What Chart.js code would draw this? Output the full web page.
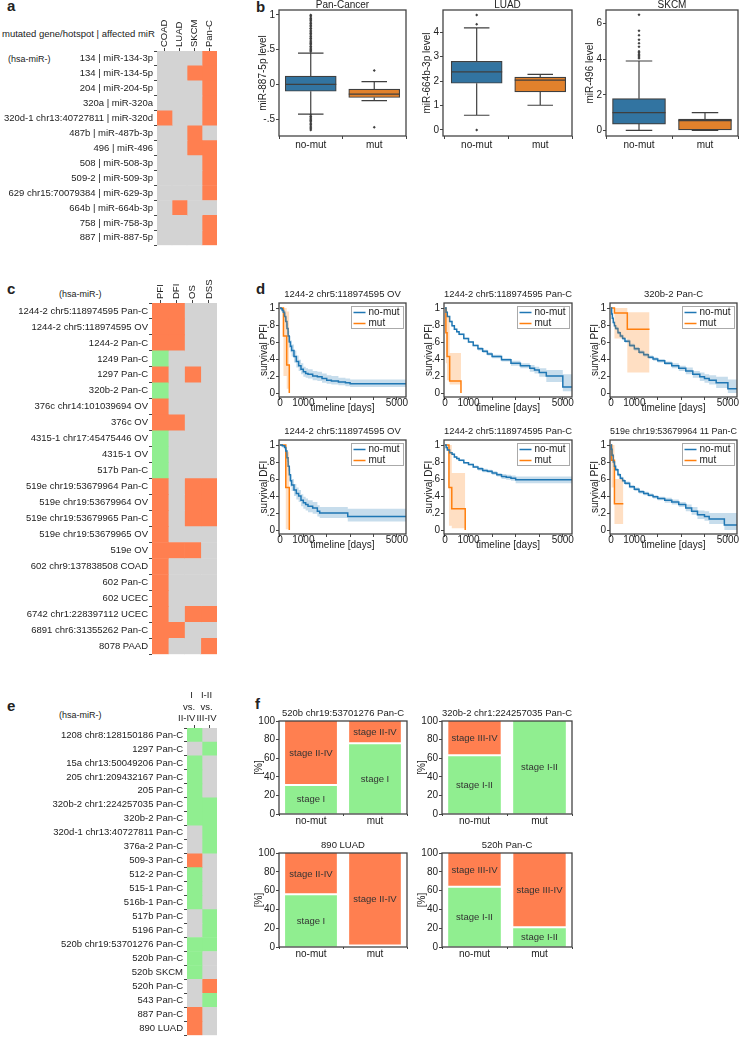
<!DOCTYPE html>
<html>
<head>
<meta charset="utf-8">
<title>miRNA mutation figure</title>
<script src="https://cdn.jsdelivr.net/npm/chart.js@4.4.1/dist/chart.umd.min.js"></script>
<style>
  body { margin: 0; width: 740px; height: 1041px; background: #fff; position: relative; overflow: hidden;
         font-family: "Liberation Sans", Arial, sans-serif; color: #222; }
  canvas { position: absolute; }
  .lbl { position: absolute; font-size: 9.5px; line-height: 1; white-space: nowrap; }
  .hsa { position: absolute; font-size: 9px; line-height: 1; white-space: nowrap; }
  .panel { position: absolute; font-size: 15px; font-weight: bold; line-height: 1; }
</style>
</head>
<body>
<div class="panel" style="left:7px;top:-2px">a</div>
<div class="panel" style="left:256px;top:-1px">b</div>
<div class="panel" style="left:7px;top:281px">c</div>
<div class="panel" style="left:256px;top:281px">d</div>
<div class="panel" style="left:7px;top:698px">e</div>
<div class="panel" style="left:255px;top:696px">f</div>
<div class="lbl" style="left:2px;top:29px">mutated gene/hotspot | affected miR</div>
<div class="hsa" style="left:8px;top:55px">(hsa-miR-)</div>
<div class="hsa" style="left:59px;top:290px">(hsa-miR-)</div>
<div class="hsa" style="left:59px;top:711px">(hsa-miR-)</div>
<script>
// ---- colours
const ORANGE = '#ff7f50', GREEN = '#90ee90', GREY = '#d3d3d3';
const cellColors = [GREY, ORANGE, GREEN];   // 0 = n.s., 1 = worse / up, 2 = better / down
const BLUE_LINE = '#1f77b4', ORANGE_LINE = '#ff7f0e';
const BLUE_BAND = 'rgba(31,119,180,0.25)', ORANGE_BAND = 'rgba(255,127,14,0.25)';

// ---- panel a
const aCols = ['COAD', 'LUAD', 'SKCM', 'Pan-C'];
const aRows = ['134 | miR-134-3p', '134 | miR-134-5p', '204 | miR-204-5p', '320a | miR-320a',
  '320d-1 chr13:40727811 | miR-320d', '487b | miR-487b-3p', '496 | miR-496', '508 | miR-508-3p',
  '509-2 | miR-509-3p', '629 chr15:70079384 | miR-629-3p', '664b | miR-664b-3p', '758 | miR-758-3p',
  '887 | miR-887-5p'];
const aVals = [[0,0,0,1],[0,0,1,1],[0,0,0,1],[0,0,0,1],[1,0,0,1],[0,0,1,0],[0,0,1,1],
  [0,0,0,1],[0,0,0,1],[0,0,0,1],[0,1,0,0],[0,0,0,1],[0,0,0,1]];

// ---- panel b  (whisker low, q1, median, q3, whisker high)
const bGroups = ['no-mut', 'mut'];
const panStats = [[-0.43, -0.10, 0.0, 0.12, 0.45], [-0.235, -0.19, -0.14, -0.07, 0.04]];
const panOutNoMut = [0.47, 0.49, 0.5, 0.52, 0.54, 0.55, 0.57, 0.59, 0.6, 0.62, 0.64, 0.66, 0.67, 0.69,
  0.71, 0.73, 0.74, 0.76, 0.78, 0.8, 0.81, 0.83, 0.85, 0.87, 0.88, 0.9, 0.92, 0.94, 0.95, 0.97, 0.99, 1.0,
  -0.44, -0.46, -0.47, -0.49, -0.51, -0.52, -0.54, -0.56, -0.58, -0.6, -0.62, -0.64, -0.66];
const panOutMut = [0.2, -0.62];
const luadStats = [[0.6, 1.91, 2.38, 2.81, 4.18], [1.01, 1.56, 2.04, 2.16, 2.27]];
const luadOutNoMut = [4.33, 4.71, 0.0];
const luadOutMut = [];
const skcmStats = [[0, 0.35, 0.99, 1.78, 3.9], [0, 0, 0.54, 0.63, 1.0]];
const skcmOutNoMut = [4.05, 4.12, 4.2, 4.28, 4.36, 4.45, 4.7, 4.9, 5.1, 5.35, 5.6, 6.5];
const skcmOutMut = [];

// ---- panel c
const cCols = ['PFI', 'DFI', 'OS', 'DSS'];
const cRows = ['1244-2 chr5:118974595 Pan-C', '1244-2 chr5:118974595 OV', '1244-2 Pan-C', '1249 Pan-C',
  '1297 Pan-C', '320b-2 Pan-C', '376c chr14:101039694 OV', '376c OV', '4315-1 chr17:45475446 OV',
  '4315-1 OV', '517b Pan-C', '519e chr19:53679964 Pan-C', '519e chr19:53679964 OV',
  '519e chr19:53679965 Pan-C', '519e chr19:53679965 OV', '519e OV', '602 chr9:137838508 COAD',
  '602 Pan-C', '602 UCEC', '6742 chr1:228397112 UCEC', '6891 chr6:31355262 Pan-C', '8078 PAAD'];
const cVals = [[1,1,0,0],[1,1,0,0],[1,1,0,0],[2,0,0,0],[1,0,1,0],[2,0,0,0],[1,0,0,0],[1,1,0,0],
  [2,0,0,0],[2,0,0,0],[2,0,0,0],[1,0,1,1],[1,0,1,1],[1,0,1,1],[1,0,0,0],[1,1,1,0],[1,0,0,0],
  [1,0,0,0],[1,0,0,0],[1,0,1,1],[1,1,0,0],[1,0,0,1]];

// ---- panel d  survival curves: [time, survival, ci low, ci high]
const d1NoMut = [[0,1,1,1],[50,0.99,0.97,1],[100,0.97,0.94,0.99],[150,0.95,0.91,0.98],[200,0.9,0.85,0.94],
  [250,0.84,0.78,0.89],[300,0.76,0.69,0.82],[350,0.67,0.6,0.73],[400,0.6,0.53,0.67],[450,0.55,0.48,0.62],
  [500,0.5,0.43,0.57],[600,0.43,0.36,0.5],[700,0.37,0.3,0.44],[800,0.32,0.26,0.39],[900,0.28,0.22,0.35],
  [1000,0.25,0.19,0.31],[1100,0.23,0.18,0.29],[1200,0.22,0.17,0.28],[1400,0.2,0.15,0.26],[1600,0.19,0.14,0.25],
  [1800,0.17,0.12,0.23],[2000,0.15,0.11,0.21],[2200,0.14,0.1,0.2],[2500,0.13,0.09,0.18],[2800,0.12,0.08,0.17],
  [3000,0.11,0.07,0.16],[5390,0.11,0.07,0.16]];
const d1Mut = [[0,1,1,1],[150,0.67,0.2,1],[290,0.33,0.05,0.96],[400,0,0.05,0.96]];
const d2NoMut = [[0,1,1,1],[50,0.95,0.94,0.96],[100,0.9,0.89,0.91],[200,0.84,0.83,0.85],[300,0.79,0.78,0.8],
  [400,0.75,0.74,0.76],[500,0.72,0.71,0.73],[600,0.69,0.68,0.7],[800,0.64,0.63,0.65],[1000,0.6,0.59,0.61],
  [1200,0.56,0.55,0.57],[1400,0.52,0.5,0.54],[1600,0.49,0.47,0.51],[1800,0.46,0.44,0.48],[2000,0.43,0.41,0.45],
  [2400,0.39,0.37,0.41],[2800,0.35,0.32,0.38],[3200,0.32,0.29,0.35],[3600,0.29,0.25,0.33],[3800,0.27,0.23,0.31],
  [4000,0.24,0.19,0.29],[4300,0.2,0.13,0.27],[5000,0.07,0.02,0.22],[5390,0.07,0.02,0.22]];
const d2Mut = [[0,1,1,1],[40,0.71,0.35,1],[90,0.43,0.15,0.9],[200,0.14,0.1,0.47],[680,0,0.1,0.47]];
const d3NoMut = [[0,1,1,1],[30,0.93,0.91,0.95],[60,0.88,0.86,0.9],[100,0.83,0.81,0.85],[150,0.79,0.77,0.81],
  [200,0.76,0.74,0.78],[300,0.71,0.69,0.73],[400,0.67,0.65,0.69],[500,0.64,0.62,0.66],[600,0.61,0.59,0.63],
  [800,0.56,0.54,0.58],[1000,0.52,0.5,0.54],[1200,0.48,0.46,0.5],[1400,0.45,0.43,0.47],[1600,0.42,0.4,0.44],
  [1800,0.4,0.38,0.42],[2000,0.38,0.36,0.4],[2300,0.35,0.33,0.37],[2600,0.32,0.29,0.35],[2900,0.29,0.26,0.32],
  [3200,0.26,0.22,0.3],[3500,0.22,0.18,0.26],[3800,0.19,0.14,0.24],[4000,0.17,0.12,0.22],[4200,0.15,0.1,0.21],
  [4500,0.12,0.06,0.19],[5000,0.05,0,0.16],[5390,0.05,0,0.16]];
const d3Mut = [[0,1,1,1],[150,0.94,0.64,1],[700,0.75,0.24,0.95],[1650,0.75,0.24,0.95]];
const d4NoMut = [[0,1,1,1],[100,0.99,0.97,1],[200,0.97,0.94,0.99],[250,0.93,0.89,0.96],[300,0.85,0.8,0.9],
  [350,0.75,0.69,0.81],[400,0.65,0.58,0.72],[450,0.58,0.51,0.65],[500,0.53,0.46,0.6],[600,0.47,0.4,0.54],
  [700,0.43,0.36,0.5],[800,0.4,0.33,0.47],[900,0.35,0.28,0.42],[1000,0.32,0.25,0.39],[1100,0.3,0.23,0.37],
  [1200,0.28,0.21,0.35],[1400,0.26,0.19,0.33],[1600,0.22,0.16,0.29],[1700,0.2,0.14,0.27],[2900,0.16,0.1,0.25],
  [5390,0.16,0.1,0.25]];
const d4Mut = [[0,1,1,1],[250,0.5,0.01,0.92],[400,0,0.01,0.92]];
const d5NoMut = [[0,1,1,1],[50,0.97,0.96,0.98],[100,0.94,0.93,0.95],[200,0.91,0.9,0.92],[300,0.89,0.88,0.9],
  [400,0.86,0.85,0.87],[500,0.84,0.83,0.85],[600,0.82,0.81,0.83],[800,0.79,0.78,0.8],[1000,0.77,0.76,0.78],
  [1200,0.74,0.73,0.76],[1400,0.72,0.7,0.74],[1600,0.7,0.68,0.72],[1800,0.69,0.67,0.71],[2000,0.67,0.65,0.69],
  [2200,0.65,0.63,0.67],[2400,0.63,0.6,0.66],[2600,0.62,0.59,0.65],[2800,0.61,0.58,0.64],[3000,0.59,0.55,0.63],
  [5390,0.59,0.55,0.63]];
const d5Mut = [[0,1,1,1],[170,0.5,0.05,1],[290,0.25,0.02,0.67],[860,0,0.02,0.67]];
const d6NoMut = [[0,1,1,1],[20,0.95,0.93,0.97],[50,0.88,0.86,0.9],[100,0.8,0.78,0.82],[150,0.75,0.73,0.77],
  [200,0.71,0.69,0.73],[300,0.65,0.63,0.67],[400,0.61,0.59,0.63],[500,0.58,0.56,0.6],[600,0.55,0.53,0.57],
  [800,0.51,0.49,0.53],[1000,0.48,0.46,0.5],[1200,0.45,0.43,0.47],[1400,0.43,0.41,0.45],[1600,0.41,0.39,0.43],
  [1800,0.39,0.37,0.41],[2000,0.37,0.35,0.39],[2300,0.35,0.32,0.38],[2600,0.33,0.3,0.36],[2900,0.3,0.27,0.33],
  [3200,0.26,0.22,0.3],[3450,0.22,0.18,0.27],[3700,0.18,0.13,0.23],[4000,0.16,0.11,0.22],[4200,0.13,0.07,0.2],
  [4850,0.06,0,0.2],[5390,0.06,0,0.2]];
const d6Mut = [[0,1,1,1],[30,0.82,0.5,1],[150,0.31,0.07,0.6],[530,0.31,0.07,0.6]];
const kmXTicks = [0, 1000, 2000, 3000, 4000, 5000];
const kmXLabels = ['0', '1000', '', '', '', '5000'];
const kmYTicks = [0, 0.2, 0.4, 0.6, 0.8, 1];
const kmYLabels = ['0', '.2', '.4', '.6', '.8', '1'];

// ---- panel e (trailing spaces only nudge the first header to the left, as in the figure)
const eCols = [['I', 'vs.\u2002', 'II-IV\u2003'], ['I-II', 'vs.', 'III-IV']];
const eRows = ['1208 chr8:128150186 Pan-C', '1297 Pan-C', '15a chr13:50049206 Pan-C',
  '205 chr1:209432167 Pan-C', '205 Pan-C', '320b-2 chr1:224257035 Pan-C', '320b-2 Pan-C',
  '320d-1 chr13:40727811 Pan-C', '376a-2 Pan-C', '509-3 Pan-C', '512-2 Pan-C', '515-1 Pan-C',
  '516b-1 Pan-C', '517b Pan-C', '5196 Pan-C', '520b chr19:53701276 Pan-C', '520b Pan-C', '520b SKCM',
  '520h Pan-C', '543 Pan-C', '887 Pan-C', '890 LUAD'];
const eVals = [[2,0],[0,2],[2,0],[2,0],[2,0],[2,2],[2,2],[0,2],[0,2],[1,0],[2,0],[2,0],[2,0],[0,2],
  [0,2],[2,2],[2,0],[2,0],[0,1],[0,2],[1,0],[1,0]];

// ---- panel f  (percent of patients)
const fGroups = ['no-mut', 'mut'];
const f1Low = [30, 75], f1High = [70, 25];
const f2Low = [62, 100], f2High = [38, 0];
const f3Low = [55, 0], f3High = [45, 100];
const f4Low = [63, 20], f4High = [37, 80];

// ---- defaults
Chart.defaults.font.family = '"Liberation Sans", Arial, sans-serif';
Chart.defaults.font.size = 9.5;
Chart.defaults.color = '#222';
Chart.defaults.animation = false;
Chart.defaults.responsive = false;
Chart.defaults.plugins.legend.display = false;
Chart.defaults.plugins.tooltip.enabled = false;

const AXIS = '#444';
const tickGrid = { drawOnChartArea: false, tickLength: 3, color: AXIS };

function canvasAt(left, top, w, h) {
  const c = document.createElement('canvas');
  c.width = Math.round(w); c.height = Math.round(h);
  c.style.left = Math.round(left) + 'px'; c.style.top = Math.round(top) + 'px';
  document.body.appendChild(c);
  return c;
}

// box around the plot area
const framePlugin = {
  id: 'frame',
  afterDatasetsDraw(chart) {
    const { ctx, chartArea: a } = chart;
    ctx.save();
    ctx.strokeStyle = AXIS; ctx.lineWidth = 1.3;
    ctx.strokeRect(a.left, a.top, a.right - a.left, a.bottom - a.top);
    ctx.restore();
  }
};

// medians, whiskers and caps for the box plots
const whiskerPlugin = {
  id: 'whiskers',
  afterDatasetsDraw(chart) {
    const ds = chart.data.datasets[0];
    const y = chart.scales.y, ctx = chart.ctx;
    ctx.save();
    ctx.strokeStyle = '#3f3f3f'; ctx.lineWidth = 1.2;
    chart.getDatasetMeta(0).data.forEach((bar, i) => {
      const [lo, q1, med, q3, hi] = ds.stats[i];
      const half = bar.width / 2, cx = bar.x;
      ctx.beginPath();
      ctx.moveTo(cx - half, y.getPixelForValue(med)); ctx.lineTo(cx + half, y.getPixelForValue(med));
      ctx.moveTo(cx, y.getPixelForValue(q3)); ctx.lineTo(cx, y.getPixelForValue(hi));
      ctx.moveTo(cx, y.getPixelForValue(q1)); ctx.lineTo(cx, y.getPixelForValue(lo));
      ctx.moveTo(cx - half / 2, y.getPixelForValue(hi)); ctx.lineTo(cx + half / 2, y.getPixelForValue(hi));
      ctx.moveTo(cx - half / 2, y.getPixelForValue(lo)); ctx.lineTo(cx + half / 2, y.getPixelForValue(lo));
      ctx.stroke();
    });
    ctx.restore();
  }
};

// legend box inside the top right corner of the survival plots
const kmLegend = {
  id: 'kmLegend',
  afterDraw(chart) {
    const { ctx, chartArea: a } = chart;
    const items = chart.data.datasets.filter(d => d.label);
    const bw = 52, bh = 22, x0 = a.right - bw - 2.5, y0 = a.top + 3.5;
    ctx.save();
    ctx.fillStyle = 'rgba(255,255,255,0.85)';
    ctx.fillRect(x0, y0, bw, bh);
    ctx.strokeStyle = '#aaa'; ctx.lineWidth = 1;
    ctx.strokeRect(x0, y0, bw, bh);
    ctx.font = '10px "Liberation Sans", Arial, sans-serif';
    ctx.textBaseline = 'middle';
    items.forEach((d, i) => {
      const yy = y0 + 6 + i * 11;
      ctx.strokeStyle = d.borderColor; ctx.lineWidth = 1.5;
      ctx.beginPath(); ctx.moveTo(x0 + 2, yy); ctx.lineTo(x0 + 14, yy); ctx.stroke();
      ctx.fillStyle = '#222';
      ctx.fillText(d.label, x0 + 17, yy);
    });
    ctx.restore();
  }
};

// stage names written inside the stacked bars
const segLabels = {
  id: 'segLabels',
  afterDatasetsDraw(chart) {
    const ctx = chart.ctx;
    ctx.save();
    ctx.font = '9.5px "Liberation Sans", Arial, sans-serif';
    ctx.fillStyle = '#333'; ctx.textAlign = 'center'; ctx.textBaseline = 'middle';
    chart.data.datasets.forEach((ds, i) => {
      chart.getDatasetMeta(i).data.forEach((el, j) => {
        if (ds.data[j] > 0) ctx.fillText(ds.label, el.x, (el.y + el.base) / 2);
      });
    });
    ctx.restore();
  }
};

function heatmap(box, rows, colTicks, vals, rot) {
  const cv = canvasAt(box.x, box.y, box.w, box.h);
  new Chart(cv, {
    type: 'bar',
    data: {
      labels: rows,
      datasets: colTicks.map((c, j) => ({
        data: rows.map(() => 1),
        backgroundColor: vals.map(r => cellColors[r[j]]),
        borderWidth: 0, barPercentage: 1, categoryPercentage: 1
      }))
    },
    options: {
      indexAxis: 'y',
      layout: { padding: { right: box.padR, bottom: box.padB } },
      scales: {
        x: {
          position: 'top', stacked: true, min: 0, max: colTicks.length,
          afterBuildTicks: s => { s.ticks = colTicks.map((c, j) => ({ value: j + 0.5 })); },
          afterFit: s => { s.height = box.xH; },
          ticks: { autoSkip: false, maxRotation: rot, minRotation: rot, padding: 1,
                   labelOffset: rot ? 11.4 : -3, callback: (v, i) => colTicks[i] },
          grid: tickGrid, border: { display: false }
        },
        y: {
          stacked: true,
          afterFit: s => { s.width = box.yW; },
          ticks: { autoSkip: false, padding: 1 },
          grid: tickGrid, border: { display: false }
        }
      }
    }
  });
}

function boxPlot(fr, title, yTitle, stats, outNoMut, outMut, yMin, yMax, yTicks, yLabels) {
  const yW = 22, left = fr.l - yW, top = fr.t - 10;
  const cv = canvasAt(left, top, fr.r - left + 6, fr.b + 16 - top);
  const outliers = outNoMut.map(v => ({ x: 0, y: v })).concat(outMut.map(v => ({ x: 1, y: v })));
  new Chart(cv, {
    type: 'bar',
    data: {
      datasets: [{
        data: stats.map((s, i) => ({ x: i, y: [s[1], s[3]] })),
        stats: stats,
        backgroundColor: ['#3274a1', '#e1812c'],
        borderColor: '#3f3f3f', borderWidth: 1.2, borderSkipped: false,
        barThickness: fr.bw, grouped: false
      }, {
        type: 'scatter',
        data: outliers,
        pointStyle: 'rectRot', pointRadius: 1.5, backgroundColor: '#3f3f3f', borderWidth: 0
      }]
    },
    options: {
      layout: { padding: { right: 6 } },
      plugins: {
        title: { display: true, text: title, color: '#222', fullSize: false,
                 font: { size: 10, weight: 'normal', lineHeight: 1 }, padding: { top: 0, bottom: 0 } }
      },
      scales: {
        x: {
          type: 'linear', min: fr.xMin, max: fr.xMax, offset: false,
          afterBuildTicks: s => { s.ticks = [{ value: 0 }, { value: 1 }]; },
          afterFit: s => { s.height = 16; },
          ticks: { callback: v => bGroups[v], font: { size: 10 }, padding: 0 },
          grid: tickGrid, border: { display: false }
        },
        y: {
          min: yMin, max: yMax,
          afterBuildTicks: s => { s.ticks = yTicks.map(v => ({ value: v })); },
          afterFit: s => { s.width = yW; },
          ticks: { callback: (v, i) => yLabels[i], font: { size: 10 }, padding: 1 },
          title: { display: true, text: yTitle, font: { size: 10 }, padding: 0 },
          grid: tickGrid, border: { display: false }
        }
      }
    },
    plugins: [framePlugin, whiskerPlugin]
  });
}

function kmPlot(fr, title, yTitle, noMut, mut) {
  const yW = 21, left = fr.l - yW, top = fr.t - 14;
  const cv = canvasAt(left, top, fr.r - left + 8, fr.b + 18 - top);
  const pts = (rows, k) => rows.map(r => ({ x: r[0], y: r[k] }));
  const band = (rows, color) => [
    { data: pts(rows, 3), stepped: 'before', borderWidth: 0, pointRadius: 0, fill: false },
    { data: pts(rows, 2), stepped: 'before', borderWidth: 0, pointRadius: 0, fill: '-1', backgroundColor: color }
  ];
  new Chart(cv, {
    type: 'line',
    data: {
      datasets: [
        ...band(noMut, BLUE_BAND), ...band(mut, ORANGE_BAND),
        { label: 'no-mut', data: pts(noMut, 1), stepped: 'before', borderColor: BLUE_LINE,
          borderWidth: 1.5, pointRadius: 0, fill: false },
        { label: 'mut', data: pts(mut, 1), stepped: 'before', borderColor: ORANGE_LINE,
          borderWidth: 1.5, pointRadius: 0, fill: false }
      ]
    },
    options: {
      layout: { padding: { right: 8 } },
      plugins: {
        title: { display: true, text: title, color: '#222', fullSize: false,
                 font: { size: 9.5, weight: 'normal', lineHeight: 1.2 }, padding: { top: 0, bottom: 2.6 } }
      },
      scales: {
        x: {
          type: 'linear', min: -40, max: 5390,
          afterBuildTicks: s => { s.ticks = kmXTicks.map(v => ({ value: v })); },
          afterFit: s => { s.height = 18; },
          ticks: { callback: (v, i) => kmXLabels[i], font: { size: 10 }, padding: -3, maxRotation: 0 },
          title: { display: true, text: 'timeline [days]', font: { size: 10 }, padding: { top: 0, bottom: 1 } },
          grid: tickGrid, border: { display: false }
        },
        y: {
          min: -0.047, max: 1.059,
          afterBuildTicks: s => { s.ticks = kmYTicks.map(v => ({ value: v })); },
          afterFit: s => { s.width = yW; },
          ticks: { callback: (v, i) => kmYLabels[i], font: { size: 10 }, padding: 1 },
          title: { display: true, text: yTitle, font: { size: 10 }, padding: 0 },
          grid: tickGrid, border: { display: false }
        }
      }
    },
    plugins: [framePlugin, kmLegend]
  });
}

function stagePlot(fr, title, lowName, highName, low, high) {
  const yW = 26, left = fr.l - yW, top = fr.t - 13;
  const cv = canvasAt(left, top, fr.r - left + 6, fr.b + 15 - top);
  new Chart(cv, {
    type: 'bar',
    data: {
      labels: fGroups,
      datasets: [
        { label: lowName, data: low, backgroundColor: GREEN, borderWidth: 0,
          barPercentage: 0.81, categoryPercentage: 1 },
        { label: highName, data: high, backgroundColor: ORANGE, borderColor: '#fff',
          borderWidth: { top: 0, left: 0, right: 0, bottom: 2 }, borderSkipped: false,
          barPercentage: 0.81, categoryPercentage: 1 }
      ]
    },
    options: {
      layout: { padding: { right: 6 } },
      plugins: {
        title: { display: true, text: title, color: '#222', fullSize: false,
                 font: { size: 9.5, weight: 'normal', lineHeight: 1.2 }, padding: { top: 0, bottom: 1.6 } }
      },
      scales: {
        x: {
          stacked: true,
          afterFit: s => { s.height = 15; },
          ticks: { font: { size: 10 }, padding: -1 },
          grid: { drawOnChartArea: false, tickLength: 2, color: AXIS }, border: { display: false }
        },
        y: {
          stacked: true, min: 0, max: 100,
          afterFit: s => { s.width = yW; },
          ticks: { stepSize: 20, font: { size: 10 }, padding: 1 },
          title: { display: true, text: '[%]', font: { size: 10 }, padding: 0 },
          grid: tickGrid, border: { display: false }
        }
      }
    },
    plugins: [framePlugin, segLabels]
  });
}

// ---- a
heatmap({ x: 0, y: 0, w: 225, h: 252, yW: 157, xH: 51, padR: 8, padB: 2 }, aRows, aCols, aVals, 90);

// ---- b
boxPlot({ l: 279, t: 10, r: 406, b: 136, xMin: -0.5, xMax: 1.5, bw: 51 }, 'Pan-Cancer', 'miR-887-5p level',
  panStats, panOutNoMut, panOutMut, -0.745, 1.072, [-0.5, 0, 0.5, 1], ['-.5', '0', '.5', '1']);
boxPlot({ l: 443, t: 10, r: 572, b: 136, xMin: -0.53, xMax: 1.5, bw: 51 }, 'LUAD', 'miR-664b-3p level',
  luadStats, luadOutNoMut, luadOutMut, -0.25, 4.91, [0, 1, 2, 3, 4], ['0', '1', '2', '3', '4']);
boxPlot({ l: 606, t: 10, r: 738, b: 136, xMin: -0.5, xMax: 1.5, bw: 53 }, 'SKCM', 'miR-496 level',
  skcmStats, skcmOutNoMut, skcmOutMut, -0.32, 6.77, [0, 2, 4, 6], ['0', '2', '4', '6']);

// ---- c
heatmap({ x: 0, y: 270, w: 225, h: 391, yW: 152, xH: 33, padR: 8, padB: 2 }, cRows, cCols, cVals, 90);

// ---- d
kmPlot({ l: 279, t: 303, r: 406, b: 397 }, '1244-2 chr5:118974595 OV', 'survival PFI', d1NoMut, d1Mut);
kmPlot({ l: 444, t: 303, r: 572, b: 397 }, '1244-2 chr5:118974595 Pan-C', 'survival PFI', d2NoMut, d2Mut);
kmPlot({ l: 610, t: 303, r: 737, b: 397 }, '320b-2 Pan-C', 'survival PFI', d3NoMut, d3Mut);
kmPlot({ l: 279, t: 440, r: 406, b: 534 }, '1244-2 chr5:118974595 OV', 'survival DFI', d4NoMut, d4Mut);
kmPlot({ l: 444, t: 440, r: 572, b: 534 }, '1244-2 chr5:118974595 Pan-C', 'survival DFI', d5NoMut, d5Mut);
kmPlot({ l: 610, t: 440, r: 737, b: 534 }, '519e chr19:53679964 11 Pan-C', 'survival PFI', d6NoMut, d6Mut);

// ---- e
heatmap({ x: 0, y: 684, w: 229, h: 358, yW: 187, xH: 44, padR: 12, padB: 2 }, eRows, eCols, eVals, 0);

// ---- f
stagePlot({ l: 279, t: 721, r: 407, b: 814 }, '520b chr19:53701276 Pan-C', 'stage I', 'stage II-IV', f1Low, f1High);
stagePlot({ l: 442, t: 721, r: 572, b: 814 }, '320b-2 chr1:224257035 Pan-C', 'stage I-II', 'stage III-IV', f2Low, f2High);
stagePlot({ l: 279, t: 853, r: 407, b: 947 }, '890 LUAD', 'stage I', 'stage II-IV', f3Low, f3High);
stagePlot({ l: 442, t: 853, r: 572, b: 947 }, '520h Pan-C', 'stage I-II', 'stage III-IV', f4Low, f4High);
</script>
</body>
</html>
